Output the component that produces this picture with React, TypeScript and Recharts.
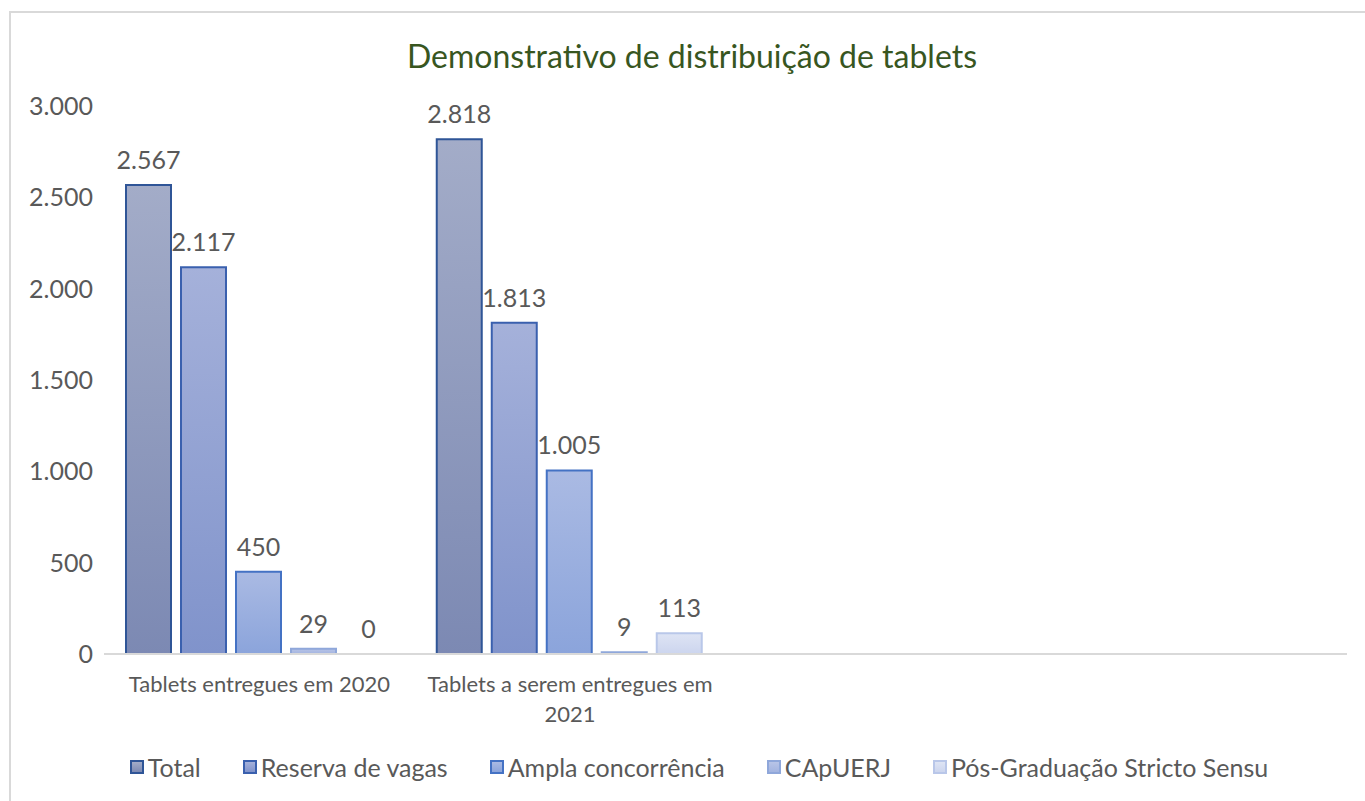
import React from "react";
import { BarChart, Bar, XAxis, YAxis, LabelList, Legend, Rectangle } from "recharts";

const categories = ["Tablets entregues em 2020", "Tablets a serem entregues em 2021", "", ""];
const seriesNames = ["Total", "Reserva de vagas", "Ampla concorrência", "CApUERJ", "Pós-Graduação Stricto Sensu"];
const totalValues = [2567, 2818, null, null];
const reservaValues = [2117, 1813, null, null];
const amplaValues = [450, 1005, null, null];
const capValues = [29, 9, null, null];
const posValues = [0, 113, null, null];
const yTicks = [0, 500, 1000, 1500, 2000, 2500, 3000];

const seriesKeys = ["total", "reserva", "ampla", "cap", "pos"];
const seriesValues = [totalValues, reservaValues, amplaValues, capValues, posValues];
const seriesStroke = ["#2F5597", "#3A60AE", "#4472C4", "#8FA7DA", "#B9C7E9"];
const seriesTop = ["#A3ACC8", "#A5B1DA", "#AABAE3", "#B8C4E7", "#DEE4F4"];
const seriesBottom = ["#7C89B3", "#8093CB", "#8BA4DB", "#A3B4E0", "#CCD5EE"];

const data = categories.map((c, i) => {
  const row: any = { category: c };
  seriesKeys.forEach((k, j) => {
    row[k] = seriesValues[j][i];
  });
  return row;
});

const FONT = "Lato, 'Noto Sans', sans-serif";
const GRAY = "#595959";
const TICK_FONT_SIZE = 22;

const fmt = (v: any) => {
  if (v === null || v === undefined || v === "") return "";
  return String(v).replace(/\B(?=(\d{3})+(?!\d))/g, ".");
};

let measureCtx: any = null;
const measure = (s: string, font: string) => {
  if (!measureCtx) measureCtx = document.createElement("canvas").getContext("2d");
  measureCtx.font = font;
  return measureCtx.measureText(s).width;
};

const wrapWords = (s: string, maxW: number, font: string) => {
  const words = String(s).split(" ").filter((w) => w.length);
  const lines: string[] = [];
  let cur = "";
  words.forEach((w) => {
    const test = cur ? cur + " " + w : w;
    if (cur && measure(test, font) > maxW) {
      lines.push(cur);
      cur = w;
    } else {
      cur = test;
    }
  });
  if (cur) lines.push(cur);
  return lines;
};

const CategoryTick = (props: any) => {
  const { x, y, payload } = props;
  const font = `${TICK_FONT_SIZE}px Lato`;
  const lines = wrapWords(payload.value, 300, font);
  return (
    <text x={x} y={y + 14} textAnchor="middle" fill={GRAY} fontSize={TICK_FONT_SIZE} fontFamily={FONT}>
      {lines.map((l, i) => (
        <tspan key={i} x={x} dy={i === 0 ? "0.71em" : 30}>
          {l}
        </tspan>
      ))}
    </text>
  );
};

const ValueLabel = (props: any) => {
  const { x, y, width, height, value } = props;
  const s = fmt(value);
  if (s === "") return null;
  const top = Math.min(y, y + (height || 0));
  return (
    <text x={x + width / 2} y={top - 16} textAnchor="middle" fill={GRAY} fontSize={25} fontFamily={FONT}>
      {s}
    </text>
  );
};

const BarShape = (props: any) => {
  if (!props.height || Math.abs(props.height) < 1) return <g />;
  return <Rectangle {...props} />;
};

const minPoint = (value: any) => (value === 0 ? 0.01 : 0);

const LegendContent = () => (
  <div
    style={{
      display: "flex",
      justifyContent: "center",
      alignItems: "center",
      paddingLeft: 33,
      fontFamily: FONT,
      fontSize: 25,
      color: GRAY,
    }}
  >
    {seriesNames.map((n, i) => (
      <div key={n} style={{ display: "flex", alignItems: "center", marginRight: i < seriesNames.length - 1 ? 42 : 0 }}>
        <div
          style={{
            width: 10,
            height: 10,
            border: `2px solid ${seriesStroke[i]}`,
            background: `linear-gradient(${seriesTop[i]}, ${seriesBottom[i]})`,
            marginRight: 4,
          }}
        />
        <span>{n}</span>
      </div>
    ))}
  </div>
);

export default function App() {
  return (
    <div style={{ position: "absolute", left: 0, top: 0, width: 1365, height: 801, overflow: "hidden", background: "#fff" }}>
      <div
        style={{
          position: "absolute",
          left: 9,
          top: 11,
          width: 1400,
          height: 900,
          border: "2px solid #D9D9D9",
        }}
      />
      <div
        style={{
          position: "absolute",
          left: 0,
          width: 1384,
          top: 36,
          textAlign: "center",
          fontFamily: FONT,
          fontSize: 32,
          color: "#38561F",
          lineHeight: "40px",
        }}
      >
        Demonstrativo de distribuição de tablets
      </div>
      <div style={{ position: "absolute", left: 0, top: 0 }}>
        <BarChart
          width={1365}
          height={801}
          data={data}
          margin={{ top: 106, right: 18, left: 0, bottom: 67 }}
          barCategoryGap={22}
          barGap={10}
        >
          <defs>
            {seriesKeys.map((k, i) => (
              <linearGradient key={k} id={`g_${k}`} x1="0" y1="0" x2="0" y2="1">
                <stop offset="0%" stopColor={seriesTop[i]} />
                <stop offset="100%" stopColor={seriesBottom[i]} />
              </linearGradient>
            ))}
          </defs>
          <XAxis
            dataKey="category"
            height={80}
            tickLine={false}
            axisLine={{ stroke: "#D9D9D9", strokeWidth: 2 }}
            tick={<CategoryTick />}
            interval={0}
          />
          <YAxis
            width={104}
            domain={[0, 3000]}
            ticks={yTicks}
            tickFormatter={fmt}
            axisLine={false}
            tickLine={false}
            tickMargin={5}
            tick={{ fill: GRAY, fontSize: 25, fontFamily: FONT }}
          />
          <Legend
            layout="horizontal"
            verticalAlign="middle"
            align="center"
            wrapperStyle={{ left: 0, top: 752, width: 1365 }}
            content={<LegendContent />}
          />
          {seriesKeys.map((k, i) => (
            <Bar
              key={k}
              dataKey={k}
              name={seriesNames[i]}
              fill={`url(#g_${k})`}
              stroke={seriesStroke[i]}
              strokeWidth={2}
              minPointSize={minPoint}
              shape={<BarShape />}
              isAnimationActive={false}
            >
              <LabelList dataKey={k} content={<ValueLabel />} />
            </Bar>
          ))}
        </BarChart>
      </div>
    </div>
  );
}
